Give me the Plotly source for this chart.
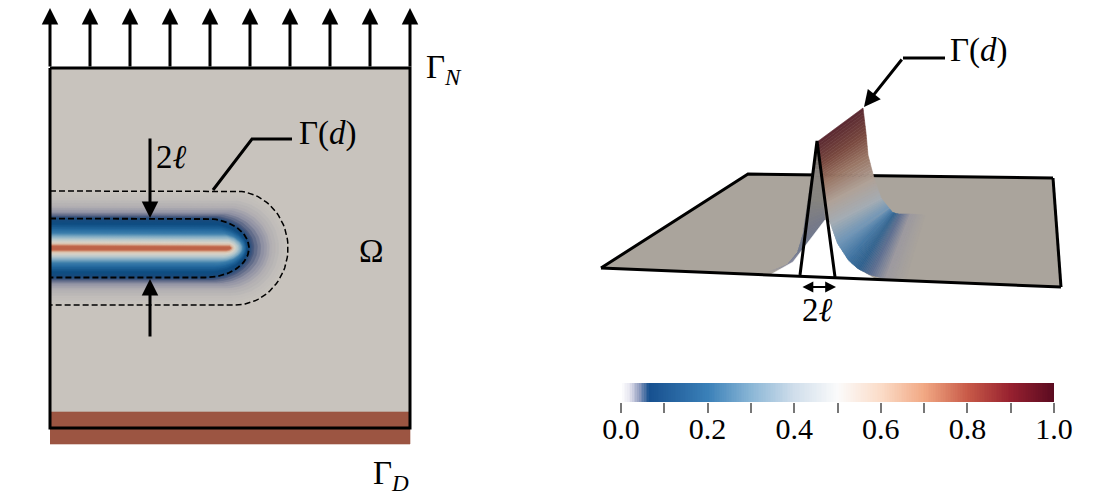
import numpy as np
import plotly.graph_objects as go

# colour bar
bar_labels = ["0.0", "0.2", "0.4", "0.6", "0.8", "1.0"]
bar_ticks = [0.0, 0.2, 0.4, 0.6, 0.8, 1.0]
bar_minor = [0.1, 0.3, 0.5, 0.7, 0.9]
bar_scale = [
    [0.0, "#ffffff"], [0.02, "#e6e6f0"], [0.04, "#9aa4c4"], [0.065, "#17508f"],
    [0.2, "#3a80b8"], [0.3, "#8ab6d6"], [0.4, "#d0deeb"], [0.5, "#fbfbfb"],
    [0.6, "#fbdcc8"], [0.7, "#f1a883"], [0.8, "#c85a48"], [0.9, "#96202f"], [1.0, "#5a0b20"],
]

# left panel: square, fixed strip, load arrows
square_x = [50, 410, 410, 50, 50]
square_y = [68, 68, 428, 428, 68]
strip_x = [50, 410, 410, 50]
strip_y = [412, 412, 444, 444]
load_x = [50, 90, 130, 170, 210, 250, 290, 330, 370, 410]
crack_y = 248

# phase field bands around the crack, outside to inside
band_half = [57, 50, 42, 36, 32, 29.5, 25, 19, 15, 12, 9, 6, 4, 2.2, 1.0]
band_tip = [288, 282, 272, 264, 254, 249, 247, 245, 243, 241, 238, 235, 233, 231, 230]
band_mid = [235, 232, 228, 220, 210, 205, 208, 212, 216, 220, 222, 224, 226, 226, 226]
band_col = ["#c8c3bd", "#c1bdba", "#b1aeb2", "#8f91a3", "#4a5a7e", "#1a4a7c", "#0f4d82", "#256a9f",
            "#3f80ad", "#7eaac3", "#b5c8cc", "#d8d3c8", "#dcc0aa", "#c9775a", "#b85a40"]

# right panel: plate and ridge
plate_x = [601, 748, 1053, 1061, 601]
plate_y = [268, 174, 178, 287, 268]
front_x = [817, 820, 823, 826, 830, 837, 848, 858, 870, 885, 905]
front_y = [142, 165, 182, 203, 223, 243, 260, 269, 275, 279, 282]
back_x = [863, 866, 868, 874, 881, 889, 892, 895, 900, 910, 925]
back_y = [108, 133, 155, 178, 198, 208, 212, 213, 214, 214, 215]
ridge_col = ["#5c2a32", "#7a4a40", "#9a7766", "#b0a298", "#a4adb5", "#6f96b8",
             "#3f74a3", "#2f6290", "#5d6f92", "#9d9aa0", "#aaa49c"]
left_x = [817, 812, 808, 803, 797, 785, 767]
left_y = [142, 173, 197, 233, 253, 267, 272]
inner_x = [817, 820, 823, 825, 810, 793, 770]
inner_y = [142, 173, 200, 220, 240, 262, 272]
left_col = ["#6e6660", "#8a8580", "#86847f", "#74788a", "#6f7890", "#8a8ca0", "#aaa49c"]
hole_x = [770, 793, 825, 830, 837, 848, 858, 876, 770]
hole_y = [275, 262, 220, 223, 243, 260, 269, 279.5, 275]


def mix(c1, c2, t):
    a = [int(c1[i:i + 2], 16) for i in (1, 3, 5)]
    b = [int(c2[i:i + 2], 16) for i in (1, 3, 5)]
    return "rgb(%d,%d,%d)" % tuple(a[i] + (b[i] - a[i]) * t for i in range(3))


def poly(fig, x, y, color):
    fig.add_trace(go.Scatter(x=x, y=y, mode="lines", fill="toself", fillcolor=color,
                             line=dict(color=color, width=0.6), hoverinfo="skip"))


def stadium(half, tip, mid):
    t = np.linspace(-np.pi / 2, np.pi / 2, 50)
    x = np.r_[50, mid + (tip - mid) * np.cos(t), 50]
    y = np.r_[crack_y - half, crack_y + half * np.sin(t), crack_y + half]
    return x, y


def line(fig, x, y, width=3, dash="solid", color="black"):
    fig.add_trace(go.Scatter(x=x, y=y, mode="lines", line=dict(color=color, width=width, dash=dash),
                             hoverinfo="skip"))


def arrow(fig, x0, y0, x1, y1, side="end", width=3, size=1.1):
    fig.add_annotation(x=x1, y=y1, ax=x0, ay=y0, xref="x", yref="y", axref="x", ayref="y", text="",
                       showarrow=True, arrowhead=2, arrowsize=size, arrowwidth=width, arrowcolor="black",
                       arrowside=side, startarrowhead=2, startarrowsize=size)


def label(fig, x, y, text, size=33):
    fig.add_annotation(x=x, y=y, xref="x", yref="y", text=text, showarrow=False,
                       font=dict(family="Liberation Serif", size=size, color="black"))


def strips(fig, x0, y0, x1, y1, col, sub=8):
    # quads between two edges, colour blended along the edges
    for i in range(len(x0) - 1):
        for k in range(sub):
            a, b = k / sub, (k + 1.0) / sub
            xs = [x0[i] + (x0[i + 1] - x0[i]) * a, x1[i] + (x1[i + 1] - x1[i]) * a,
                  x1[i] + (x1[i + 1] - x1[i]) * b, x0[i] + (x0[i + 1] - x0[i]) * b]
            ys = [y0[i] + (y0[i + 1] - y0[i]) * a, y1[i] + (y1[i + 1] - y1[i]) * a,
                  y1[i] + (y1[i + 1] - y1[i]) * b, y0[i] + (y0[i + 1] - y0[i]) * b]
            poly(fig, xs, ys, mix(col[i], col[i + 1], a))


fig = go.Figure()

# left panel
poly(fig, square_x, square_y, "#c8c3bd")
poly(fig, strip_x, strip_y, "#9c5542")
for i in range(len(band_half) - 1):
    for k in range(3):
        t = k / 3
        h = band_half[i] + (band_half[i + 1] - band_half[i]) * t
        tp = band_tip[i] + (band_tip[i + 1] - band_tip[i]) * t
        m = band_mid[i] + (band_mid[i + 1] - band_mid[i]) * t
        bx, by = stadium(h, tp, m)
        poly(fig, bx, by, mix(band_col[i], band_col[i + 1], t))
ox, oy = stadium(57, 288, 235)
line(fig, ox, oy, width=1.5, dash="6px,3px")
ix, iy = stadium(29.5, 249, 205)
line(fig, ix, iy, width=1.8, dash="6px,3px")
line(fig, square_x, square_y)
line(fig, [213, 252, 292], [190, 139, 139])

for x in load_x:
    arrow(fig, x, 68, x, 8)
arrow(fig, 150, 137, 150, 218)
arrow(fig, 150, 338, 150, 279)

label(fig, 444, 69, "Γ<sub><i>N</i></sub>")
label(fig, 391, 475, "Γ<sub><i>D</i></sub>")
label(fig, 371, 251, "Ω")
label(fig, 328, 133, "Γ(<i>d</i>)")
label(fig, 171, 157, "2<i>ℓ</i>")

# right panel
poly(fig, plate_x, plate_y, "#aaa49c")
line(fig, plate_x[:3], plate_y[:3])
line(fig, plate_x[2:4], plate_y[2:4])
strips(fig, left_x, left_y, inner_x, inner_y, left_col)
poly(fig, hole_x, hole_y, "#ffffff")
strips(fig, front_x, front_y, back_x, back_y, ridge_col)
line(fig, [plate_x[0], plate_x[3]], [plate_y[0], plate_y[3]])
line(fig, [800, 817, 835], [275, 141, 277])
line(fig, [945, 903], [58, 58])
arrow(fig, 903, 58, 864, 107)
arrow(fig, 801, 287, 836, 287, side="end+start", width=1.8, size=1.2)
label(fig, 979, 50, "Γ(<i>d</i>)")
label(fig, 817, 310, "2<i>ℓ</i>")

# colour bar on its own axes
bar_z = np.linspace(0, 1, 256)
fig.add_trace(go.Heatmap(x=bar_z, y=[0, 1], z=[bar_z, bar_z], zmin=0, zmax=1, colorscale=bar_scale,
                         showscale=False, xaxis="x2", yaxis="y2", hoverinfo="skip"))

fig.update_layout(
    template="none",
    width=1098, height=502, margin=dict(l=0, r=0, t=0, b=0, pad=0), showlegend=False,
    paper_bgcolor="white", plot_bgcolor="white",
    xaxis=dict(range=[0, 1098], visible=False, domain=[0, 1], automargin=False),
    yaxis=dict(range=[502, 0], visible=False, domain=[0, 1], automargin=False),
    xaxis2=dict(domain=[621 / 1098, 1054 / 1098], range=[0, 1], anchor="y2", tickvals=bar_ticks,
                ticktext=bar_labels, ticks="outside", ticklen=10, tickwidth=2, tickcolor="#777777",
                minor=dict(tickvals=bar_minor, ticks="outside", ticklen=10, tickwidth=2, tickcolor="#777777"),
                showgrid=False, zeroline=False, showline=False, automargin=False, ticklabelstandoff=-10,
                tickfont=dict(family="Liberation Serif", size=30, color="black")),
    yaxis2=dict(domain=[1 - 402 / 502, 1 - 383 / 502], range=[0, 1], anchor="x2", visible=False,
                automargin=False),
)

fig.write_html("out.html", config={"displayModeBar": False},
               post_script="document.body.style.margin='0';")
